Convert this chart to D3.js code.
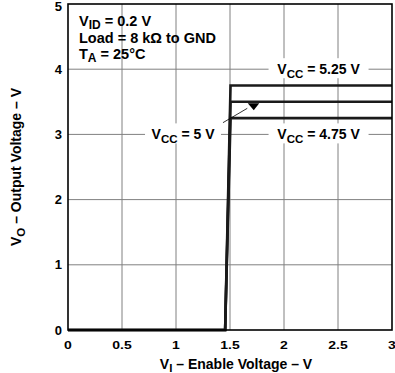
<!DOCTYPE html>
<html><head><meta charset="utf-8">
<script src="https://cdn.jsdelivr.net/npm/d3@7"></script>
<style>body{margin:0;background:#fff}svg{display:block}text{font-family:"Liberation Sans",Arial,sans-serif;font-weight:bold;fill:#000}</style>
</head><body>
<script>
const xTicks = [0, 0.5, 1, 1.5, 2, 2.5, 3];
const xTickLabels = ["0", "0.5", "1", "1.5", "2", "2.5", "3"];
const yTicks = [0, 1, 2, 3, 4, 5];
const seriesNames = ["VCC = 5.25 V", "VCC = 5 V", "VCC = 4.75 V"];
const vin = [0, 1.455, 1.505, 3];
const vout525 = [0, 0, 3.75, 3.75];
const vout500 = [0, 0, 3.5, 3.5];
const vout475 = [0, 0, 3.25, 3.25];

const W = 395, H = 373;
const m = {l: 68, t: 4, r: 3, b: 43};
const svg = d3.select("body").append("svg").attr("width", W).attr("height", H);
const x = d3.scaleLinear().domain([0, 3]).range([m.l, W - m.r]);
const y = d3.scaleLinear().domain([0, 5]).range([H - m.b, m.t]);

// grid
const g = svg.append("g");
g.selectAll("line.vx").data(xTicks.slice(1, -1)).join("line")
  .attr("x1", d => x(d)).attr("x2", d => x(d)).attr("y1", y(0)).attr("y2", y(5))
  .attr("stroke", "#808080").attr("stroke-width", 1);
g.selectAll("line.hy").data(yTicks.slice(1, -1)).join("line")
  .attr("x1", x(0)).attr("x2", x(3)).attr("y1", d => y(d)).attr("y2", d => y(d))
  .attr("stroke", "#808080").attr("stroke-width", 1);

function vccLabel(cx, cy, sub, rest, boxW) {
  const px = x(cx), py = y(cy);
  svg.append("rect").attr("x", px - boxW / 2).attr("y", py - 11).attr("width", boxW).attr("height", 20).attr("fill", "#fff");
  const t = svg.append("text").attr("x", px).attr("y", py + 5).attr("text-anchor", "middle").attr("font-size", 14);
  t.append("tspan").text("V");
  t.append("tspan").attr("dy", 4).attr("font-size", 11.5).text(sub);
  t.append("tspan").attr("dy", -4).text(rest);
}

// curves
const line = d3.line().x((d, i) => x(vin[i])).y(d => y(d));
[vout525, vout500, vout475].forEach(s => {
  svg.append("path").attr("d", line(s)).attr("fill", "none").attr("stroke", "#1a1a1a")
    .attr("stroke-width", 2.6).attr("stroke-linejoin", "miter");
});

vccLabel(2.32, 4, "CC", " = 5.25 V", 100);
vccLabel(2.32, 3, "CC", " = 4.75 V", 100);
vccLabel(1.065, 3, "CC", " = 5 V", 76);

// arrow
svg.append("line").attr("x1", x(1.435)).attr("y1", y(3.18)).attr("x2", x(1.66)).attr("y2", y(3.40))
  .attr("stroke", "#000").attr("stroke-width", 0.8);
const tipX = x(1.72), tipY = y(3.5);
svg.append("path").attr("d", `M${tipX - 6},${tipY + 1.5}L${tipX + 5.5},${tipY + 1.5}L${tipX},${tipY + 8.5}Z`).attr("fill", "#000");

// frame
svg.append("rect").attr("x", x(0)).attr("y", y(5)).attr("width", x(3) - x(0)).attr("height", y(0) - y(5))
  .attr("fill", "none").attr("stroke", "#000").attr("stroke-width", 1.6);

// tick labels
svg.selectAll("text.xt").data(xTicks).join("text").attr("class", "xt")
  .attr("text-anchor", "middle").attr("font-size", 14)
  .attr("transform", d => `translate(${x(d)},${y(0) + 19}) scale(1,0.78)`)
  .text((d, i) => xTickLabels[i]);
svg.selectAll("text.yt").data(yTicks).join("text").attr("class", "yt")
  .attr("x", x(0) - 6).attr("y", d => Math.max(y(d) + 4.5, 11)).attr("text-anchor", "end").attr("font-size", 13)
  .text(d => d);

// axis titles
const xt = svg.append("text").attr("x", 236).attr("y", 368.5).attr("text-anchor", "middle").attr("font-size", 14);
xt.append("tspan").text("V");
xt.append("tspan").attr("dy", 3.5).attr("font-size", 11.5).text("I");
xt.append("tspan").attr("dy", -3.5).text(" – Enable Voltage – V");
const yt = svg.append("text").attr("transform", `translate(21,${y(2.5)}) rotate(-90)`).attr("text-anchor", "middle").attr("font-size", 14);
yt.append("tspan").text("V");
yt.append("tspan").attr("dy", 3.5).attr("font-size", 11.5).text("O");
yt.append("tspan").attr("dy", -3.5).text(" – Output Voltage – V");

// conditions
const c = svg.append("g").attr("font-size", 14.5);
const t1 = c.append("text").attr("x", 79).attr("y", 26);
t1.append("tspan").text("V");
t1.append("tspan").attr("dy", 3).attr("font-size", 12).text("ID");
t1.append("tspan").attr("dy", -3).text(" = 0.2 V");
c.append("text").attr("x", 79).attr("y", 42.5).text("Load = 8 kΩ to GND");
const t3 = c.append("text").attr("x", 79).attr("y", 58.5);
t3.append("tspan").text("T");
t3.append("tspan").attr("dy", 3).attr("font-size", 12).text("A");
t3.append("tspan").attr("dy", -3).text(" = 25°C");
</script>
</body></html>
